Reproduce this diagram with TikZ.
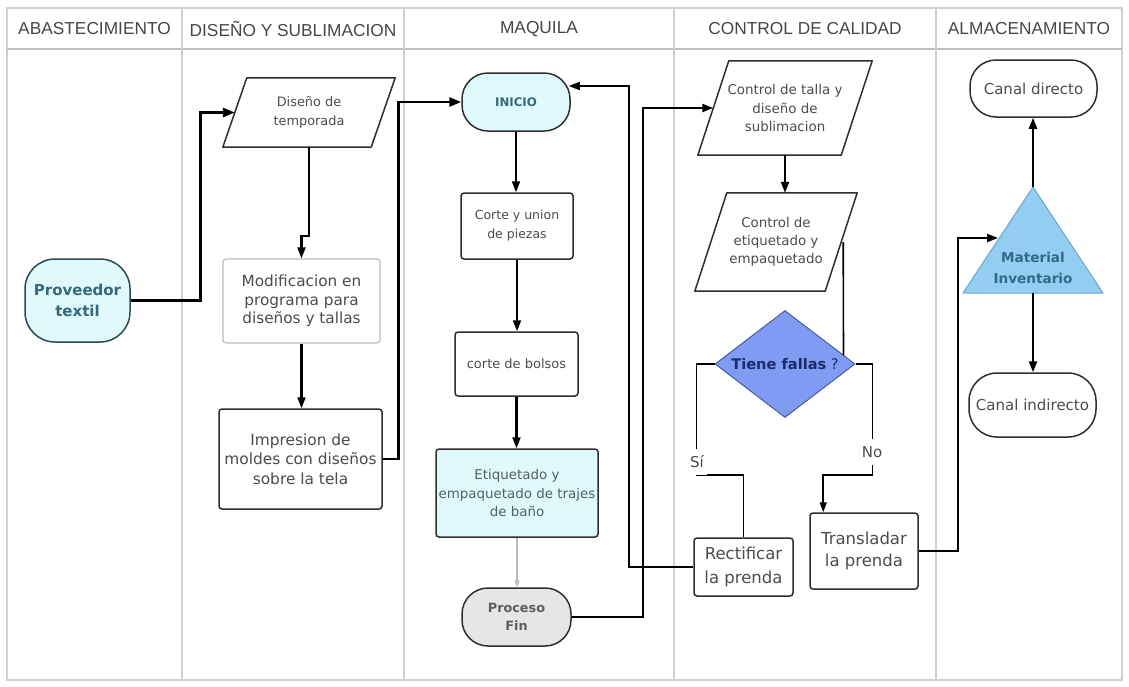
\documentclass[tikz,border=0pt]{standalone}
\usepackage{fontspec}
\setmainfont{DejaVu Sans}
\newfontfamily\hdrfont{Liberation Sans}
\usetikzlibrary{arrows.meta,calc,shapes.geometric}
\definecolor{boxc}{HTML}{2E2E2E}
\definecolor{txtc}{HTML}{4C4C4C}
\definecolor{cyanfill}{HTML}{E0F9FD}
\definecolor{tealtxt}{HTML}{35697A}
\definecolor{provbd}{HTML}{2D4A52}
\definecolor{fingray}{HTML}{E6E6E6}
\definecolor{diafill}{HTML}{7F9BF3}
\definecolor{diabd}{HTML}{4A5C9E}
\definecolor{navytxt}{HTML}{1C2B6B}
\definecolor{trifill}{HTML}{93CDF1}
\definecolor{tribd}{HTML}{6AA6CF}
\definecolor{tritxt}{HTML}{35678A}
\definecolor{lanec}{HTML}{CFCFCF}
\definecolor{hdrline}{HTML}{BDBDBD}
\definecolor{hdrtxt}{HTML}{464646}
\definecolor{lightbd}{HTML}{BBBBBB}
\definecolor{etitxt}{HTML}{4F6166}
\newcommand{\fsz}[2]{\fontsize{#1pt}{#2pt}\selectfont}
\newcommand{\pgram}[2]{\draw[boxc, line width=1.5pt, line join=round] (#1.south west) -- ($(#1.north west)+(#2,0)$) -- (#1.north east) -- ($(#1.south east)+(-#2,0)$) -- cycle;}
\begin{document}
\begin{tikzpicture}[x=1pt,y=-1pt,
  hdr/.style={font=\hdrfont\fsz{17.3}{20}, text=hdrtxt, inner sep=0pt},
  box/.style={draw=boxc, line width=1.5pt, rounded corners=3pt, align=center, text=txtc, inner sep=2pt},
  pg/.style={draw=none, align=center, text=txtc, inner sep=0pt},
  arrM/.style={line width=2.1pt, -{Triangle[length=11pt,width=8pt]}},
  arrT/.style={line width=2.8pt, -{Triangle[length=12pt,width=9pt]}},
  arrS/.style={line width=1.6pt, -{Triangle[length=10pt,width=7pt]}},
  thinl/.style={line width=1.6pt},
  lbl/.style={fill=white, inner xsep=3pt, inner ysep=7pt, font=\fsz{15}{18}, text=txtc}]
\useasboundingbox (0,0) rectangle (1129,686);
\fill[white] (0,0) rectangle (1129,686);
% lanes
\draw[lanec, line width=1.5pt] (7,8) rectangle (1122,680);
\draw[hdrline, line width=2pt] (7,49) -- (1122,49);
\foreach \x in {182,404,674,936} \draw[lanec, line width=1.5pt] (\x,8) -- (\x,680);
\node[hdr] (h1) at (94.5,29) {ABASTECIMIENTO};
\node[hdr] (h2) at (293,29) {DISEÑO Y SUBLIMACION};
\node[hdr] (h3) at (539,29) {MAQUILA};
\node[hdr] (h4) at (805,29) {CONTROL DE CALIDAD};
\node[hdr] (h5) at (1029,29) {ALMACENAMIENTO};
% nodes
\node[box, draw=provbd, fill=cyanfill, rounded corners=30pt, minimum width=105pt, minimum height=83pt, font=\fsz{15}{21.7}\bfseries, text=tealtxt] (prov) at (77.5,300.5) {Proveedor\\textil};
\node[pg, minimum width=172pt, minimum height=69pt, font=\fsz{12.9}{19}] (dis) at (309,112.5) {Diseño de\\temporada};
\pgram{dis}{24}
\node[box, draw=lightbd, line width=1.2pt, minimum width=157pt, minimum height=84pt, font=\fsz{15.3}{18.5}] (mod) at (301.5,301) {Modificacion en\\programa para\\diseños y tallas};
\node[box, minimum width=163pt, minimum height=100pt, font=\fsz{15.4}{19.5}] (imp) at (300.5,459) {Impresion de\\moldes con diseños\\sobre la tela};
\node[box, fill=cyanfill, rounded corners=26pt, minimum width=108pt, minimum height=58pt, font=\fsz{11.8}{14}\bfseries, text=tealtxt] (ini) at (516,102) {INICIO};
\node[box, minimum width=112pt, minimum height=66pt, font=\fsz{12.5}{19}] (cor) at (517,226) {Corte y union\\de piezas};
\node[box, minimum width=123pt, minimum height=64pt, font=\fsz{13}{19}] (bol) at (516.5,364) {corte de bolsos};
\node[box, fill=cyanfill, minimum width=162pt, minimum height=88pt, inner sep=0pt, font=\fsz{13.4}{18.3}, text=etitxt] (eti) at (517,493) {Etiquetado y\\empaquetado de trajes\\de baño};
\node[box, fill=fingray, rounded corners=26pt, minimum width=109pt, minimum height=58pt, font=\fsz{12.8}{18.3}\bfseries, text=txtc!90] (fin) at (516.5,617) {Proceso\\Fin};
\node[pg, minimum width=174pt, minimum height=94pt, font=\fsz{13.4}{18.3}] (ctl) at (785,108) {Control de talla y\\diseño de\\sublimacion};
\pgram{ctl}{31}
\node[pg, minimum width=162pt, minimum height=98pt, font=\fsz{13.4}{18}] (cet) at (776,242) {Control de\\etiquetado y\\empaquetado};
\pgram{cet}{32}
\node[diamond, draw=diabd, fill=diafill, line width=1pt, minimum width=140pt, minimum height=107pt, inner sep=0pt, font=\fsz{14.6}{17}, text=navytxt] (dia) at (785,364) {\makebox[0pt]{\textbf{Tiene fallas} ?}};
\node[box, minimum width=99pt, minimum height=58pt, font=\fsz{16.5}{23.3}] (rec) at (743.5,567) {Rectificar\\la prenda};
\node[box, minimum width=108pt, minimum height=76pt, font=\fsz{16.5}{22.7}] (tra) at (864,551) {Transladar\\la prenda};
\coordinate (tA) at (1033,187);
\coordinate (tB) at (1033,293);
\coordinate (tL) at (998,238);
\fill[trifill] (tA) -- (1103,293) -- (963,293) -- cycle;
\draw[tribd, line width=1pt, line join=round] (tA) -- (1103,293) -- (963,293) -- cycle;
\node[align=center, font=\fsz{13.6}{21.7}\bfseries, text=tritxt] (tri) at (1033,268) {Material\\Inventario};
\node[box, rounded corners=26pt, minimum width=127pt, minimum height=57pt, font=\fsz{15}{18}] (cd) at (1033.5,88.5) {Canal directo};
\node[box, rounded corners=28pt, minimum width=127pt, minimum height=64pt, font=\fsz{15}{18}] (ci) at (1032.5,405) {Canal indirecto};
% connectors
\draw[arrT] (prov.east) -- ++(70,0) |- ($(dis.west)+(12,0)$);
\draw[arrM] (dis.south) |- ($(mod.north)+(0,-22)$) -- (mod.north);
\draw[arrM] (mod.south) -- (mod.south |- imp.north);
\draw[arrT] (imp.east) -- ++(16,0) |- (ini.west);
\draw[arrM] (ini.south) -- (ini.south |- cor.north);
\draw[arrM] (cor.south) -- (cor.south |- bol.north);
\draw[arrM] (bol.south) -- (bol.south |- eti.north);
\draw[lightbd, line width=1.2pt, -{Triangle[length=7pt,width=5pt]}] (eti.south) -- (eti.south |- fin.north);
\draw[arrM] (fin.east) -- ++(71,0) |- ($(ctl.west)+(15.5,0)$);
\draw[arrM] (rec.west) -- ++(-64,0) |- ($(ini.east)+(-2,-16)$);
\draw[arrM] (ctl.south) -- (ctl.south |- cet.north);
\draw[thinl] ($(cet.east)+(-14,0)$) -- ($(dia.east)+(-12,-9)$);
\draw[thinl] (dia.west) -- ++(-18,0) |- ($(rec.north)+(0,-62)$) -- (rec.north);
\node[lbl] (si) at (697,462) {Sí};
\draw[arrS] (dia.east) -- ++(17,0) |- ($(tra.north west)+(14,-37)$) -- ($(tra.north west)+(14,0)$);
\node[lbl] (no) at (872,452) {No};
\draw[arrM] (tra.east) -- ++(39,0) |- (tL);
\draw[arrM] (tA) -- (tA |- cd.south);
\draw[arrM] (tB) -- (tB |- ci.north);
\end{tikzpicture}
\end{document}
